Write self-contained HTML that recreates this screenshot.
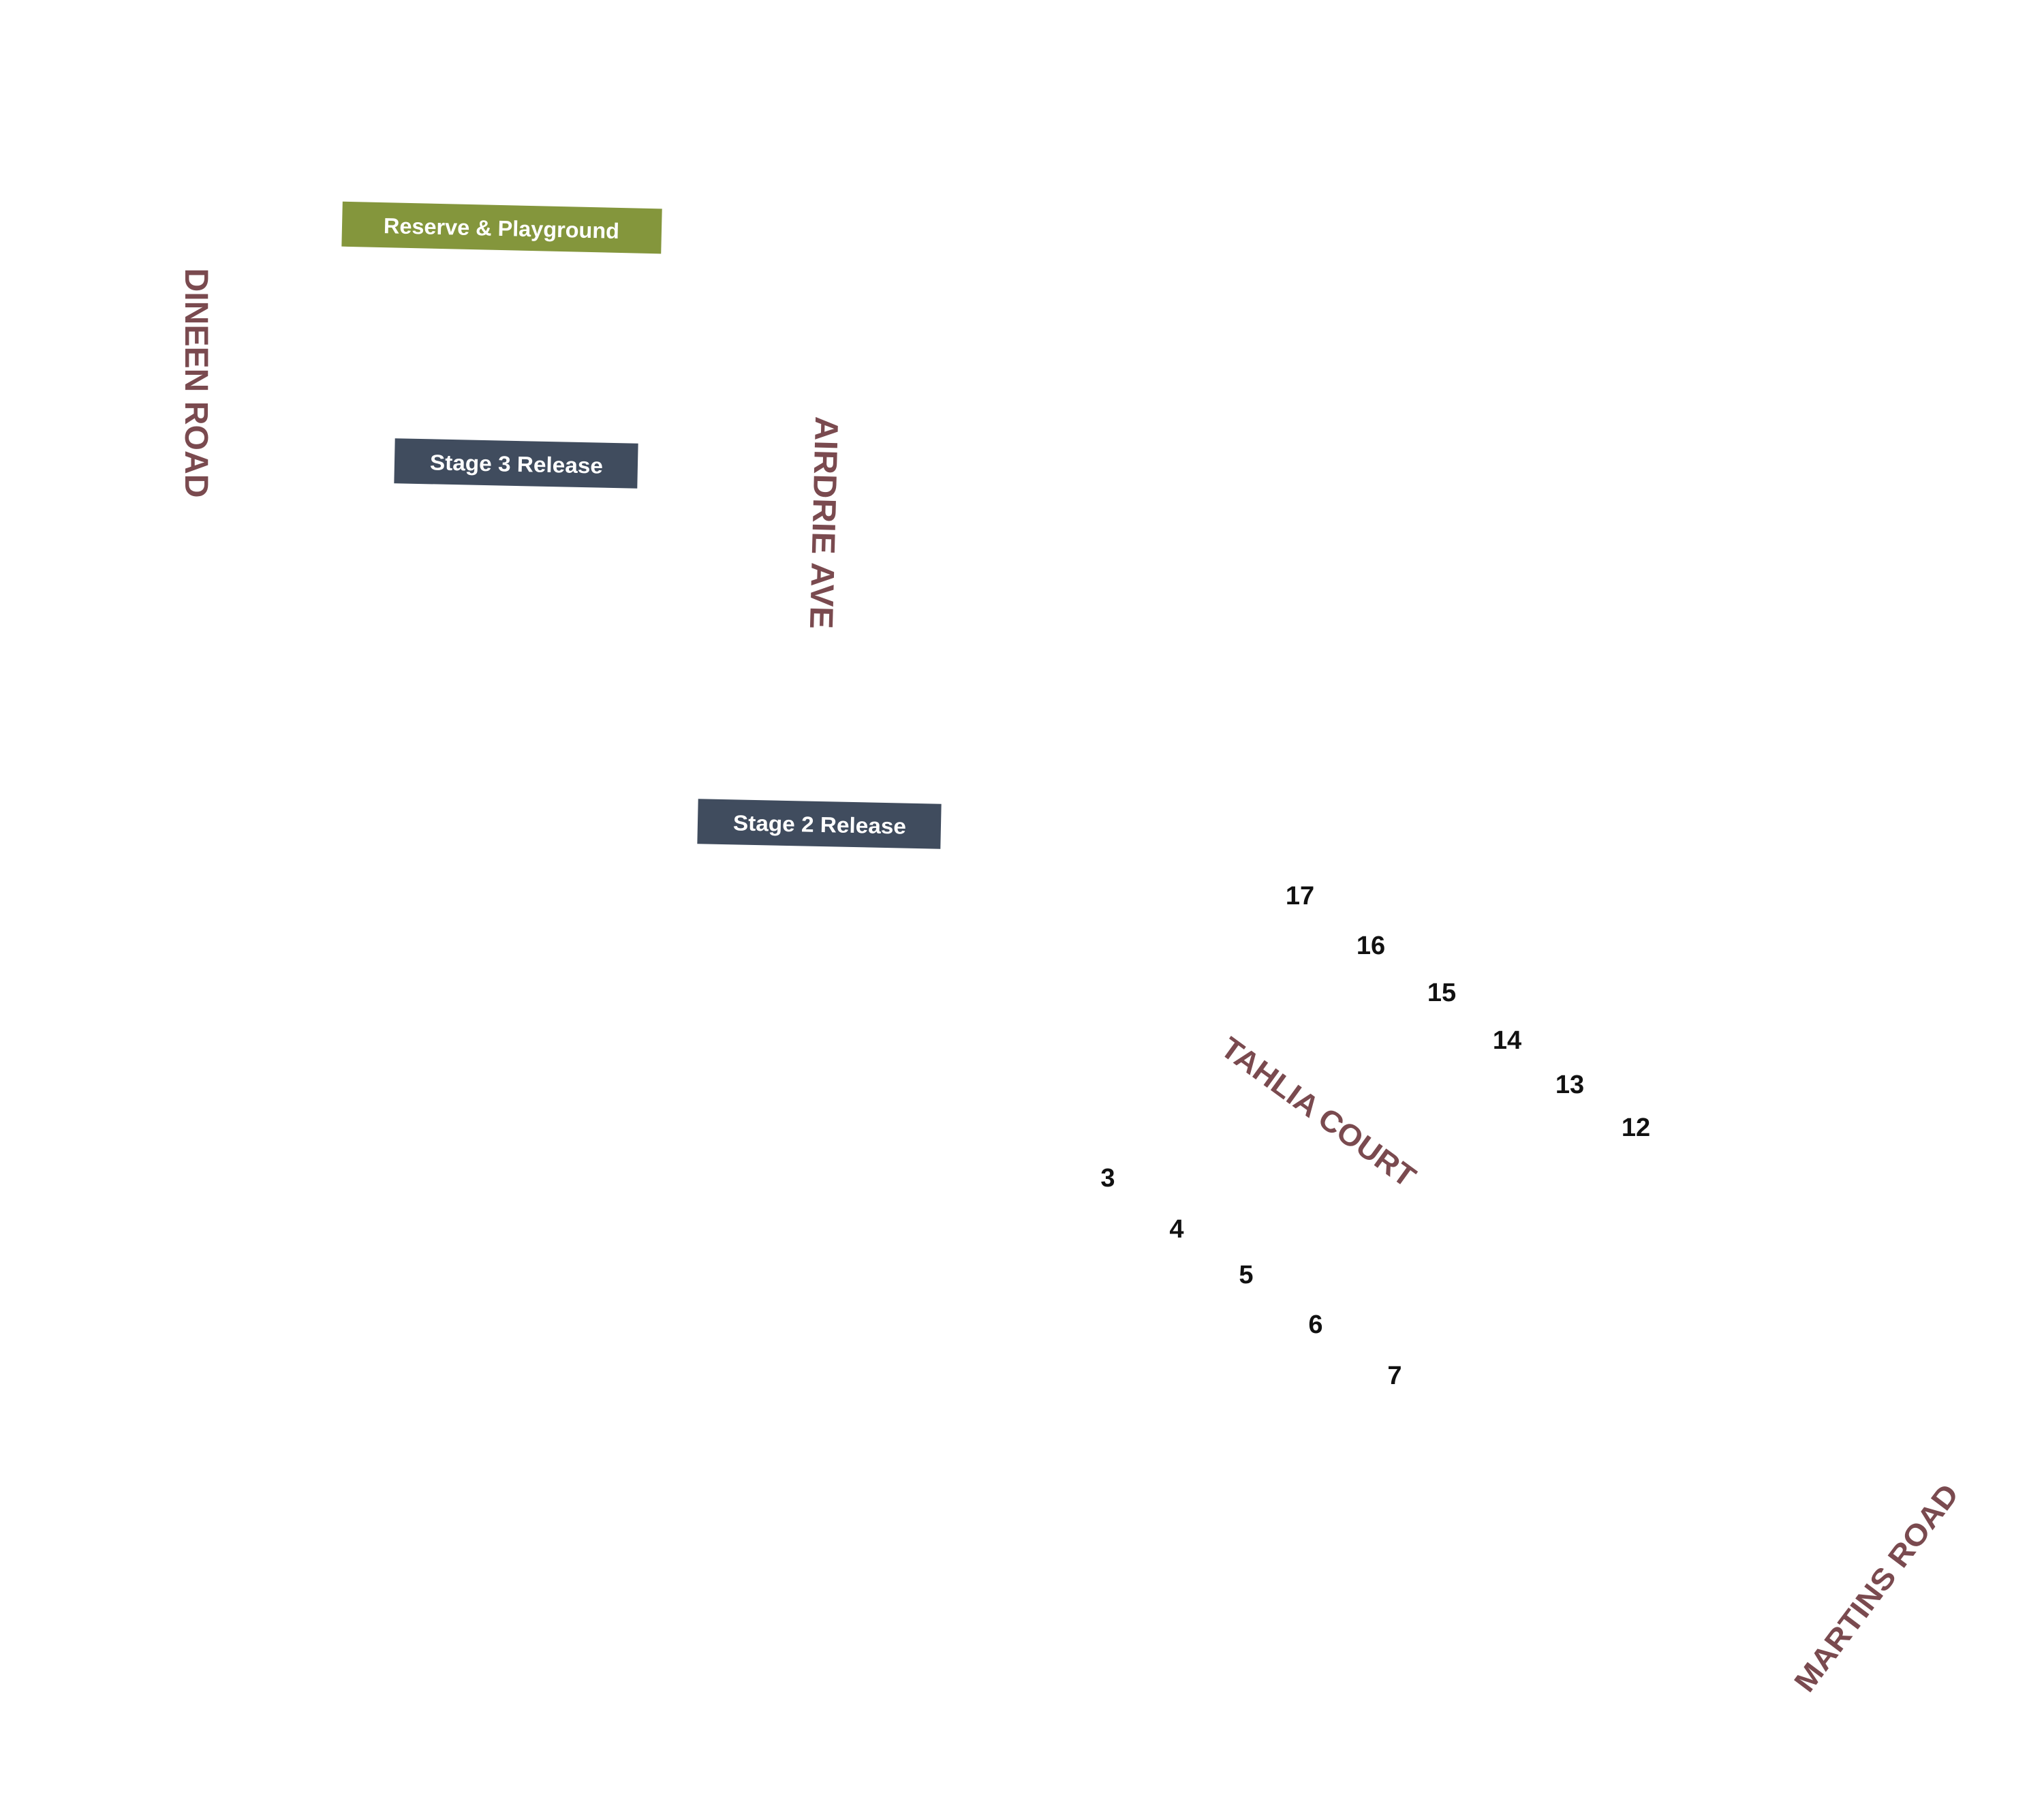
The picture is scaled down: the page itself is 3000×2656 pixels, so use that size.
<!DOCTYPE html>
<html><head><meta charset="utf-8"><style>html,body{margin:0;padding:0;background:#fff}svg{display:block}</style></head>
<body>
<svg width="3000" height="2656" viewBox="0 0 3000 2656" xmlns="http://www.w3.org/2000/svg" font-family="Liberation Sans, sans-serif">
<g transform="rotate(1.3 736 335)">
<rect x="502" y="301" width="469" height="66" fill="#84963c"/>
<text x="736" y="346" text-anchor="middle" font-size="32" font-weight="bold" fill="#fff" textLength="346" lengthAdjust="spacingAndGlyphs">Reserve &amp; Playground</text>
</g>
<g transform="rotate(1.2 758 680)">
<rect x="579" y="647" width="357" height="66" fill="#404c5e"/>
<text x="758" y="692" text-anchor="middle" font-size="32" font-weight="bold" fill="#fff" textLength="254" lengthAdjust="spacingAndGlyphs">Stage 3 Release</text>
</g>
<g transform="rotate(1.2 1203 1209)">
<rect x="1024" y="1176" width="357" height="66" fill="#404c5e"/>
<text x="1203" y="1221" text-anchor="middle" font-size="32" font-weight="bold" fill="#fff" textLength="254" lengthAdjust="spacingAndGlyphs">Stage 2 Release</text>
</g>
<g fill="#7a4a4f" font-weight="bold" font-size="48">
<text transform="translate(289 562) rotate(90)" x="0" y="17" text-anchor="middle" textLength="337" lengthAdjust="spacingAndGlyphs">DINEEN  ROAD</text>
<text transform="translate(1210 767) rotate(91.5)" x="0" y="17" text-anchor="middle" textLength="312" lengthAdjust="spacingAndGlyphs">AIRDRIE  AVE</text>
<text transform="translate(1935 1632) rotate(36)" x="0" y="15" text-anchor="middle" font-size="44" textLength="340" lengthAdjust="spacingAndGlyphs">TAHLIA COURT</text>
<text transform="translate(2754 2330) rotate(-53)" x="0" y="15" text-anchor="middle" font-size="44" textLength="368" lengthAdjust="spacingAndGlyphs">MARTINS ROAD</text>
</g>
<g fill="#111" font-size="38" font-weight="bold" text-anchor="middle">
<text x="1908" y="1327">17</text>
<text x="2012" y="1400">16</text>
<text x="2116" y="1469">15</text>
<text x="2212" y="1539">14</text>
<text x="2304" y="1604">13</text>
<text x="2401" y="1667">12</text>
<text x="1626" y="1741">3</text>
<text x="1727" y="1816">4</text>
<text x="1829" y="1883">5</text>
<text x="1931" y="1956">6</text>
<text x="2047" y="2031">7</text>
</g>
</svg>
</body></html>
